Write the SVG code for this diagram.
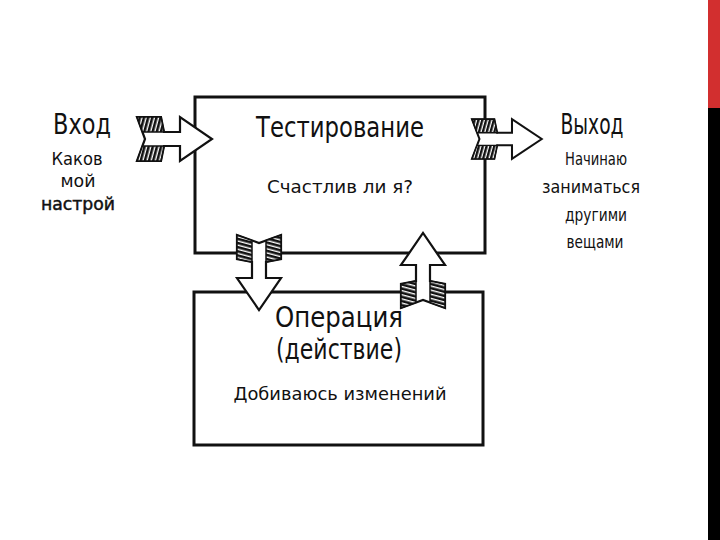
<svg xmlns="http://www.w3.org/2000/svg" width="720" height="540" viewBox="0 0 720 540">
<style>
.box{fill:none;stroke:#111;stroke-width:3}
.arr{fill:#fff;stroke:#111;stroke-width:2.2;stroke-linejoin:miter}
.fth{fill:url(#hatch);stroke:#111;stroke-width:1.5}
text{font-family:"DejaVu Sans","Liberation Sans",sans-serif;fill:#111;text-anchor:middle}
.big{font-size:29px}
.mid{font-size:18px}
</style>
<defs>
<pattern id="hatch" patternUnits="userSpaceOnUse" width="4" height="4" patternTransform="rotate(15)">
<rect width="4" height="4" fill="#111"/>
<rect x="2.6" width="1.4" height="4" fill="#fff"/>
</pattern>
<g id="arrow">
<polygon class="arr" points="0,-22 24,-22 27,-7 43,-7 43,-22 75,0 43,22 43,7 27,7 24,22 0,22 8,0"/>
<polygon class="fth" points="0,-22 24,-22 27,-7 5.5,-7"/>
<polygon class="fth" points="5.5,7 27,7 24,22 0,22"/>
</g>
</defs>
<rect width="720" height="540" fill="#fff"/>
<rect x="708" y="0" width="12" height="108" fill="#d22f2f"/>
<rect x="708" y="108" width="12" height="432" fill="#000"/>

<g id="node-test">
<rect class="box" x="195" y="97" width="290" height="156"/>
<text class="big" x="340" y="137" textLength="168" lengthAdjust="spacingAndGlyphs">Тестирование</text>
<text class="mid" x="340" y="193" textLength="146" lengthAdjust="spacingAndGlyphs">Счастлив ли я?</text>
</g>
<g id="node-op">
<rect class="box" x="194" y="292" width="289" height="153"/>
<text class="big" x="339" y="327" textLength="128" lengthAdjust="spacingAndGlyphs">Операция</text>
<text class="big" x="339" y="359" textLength="126" lengthAdjust="spacingAndGlyphs">(действие)</text>
<text class="mid" x="340" y="400" textLength="213" lengthAdjust="spacingAndGlyphs">Добиваюсь изменений</text>
</g>
<g id="node-in">
<text class="big" x="82" y="134" textLength="58" lengthAdjust="spacingAndGlyphs">Вход</text>
<text class="mid" x="77" y="165" textLength="51" lengthAdjust="spacingAndGlyphs">Каков</text>
<text class="mid" x="78" y="187" textLength="35" lengthAdjust="spacingAndGlyphs">мой</text>
<text class="mid" x="78" y="210" textLength="74" lengthAdjust="spacingAndGlyphs" style="stroke:#111;stroke-width:0.5">настрой</text>
</g>
<g id="node-out">
<text class="big" x="592" y="134" textLength="63" lengthAdjust="spacingAndGlyphs">Выход</text>
<text class="mid" x="596" y="165" textLength="62" lengthAdjust="spacingAndGlyphs">Начинаю</text>
<text class="mid" x="591" y="193" textLength="98" lengthAdjust="spacingAndGlyphs">заниматься</text>
<text class="mid" x="596" y="221" textLength="62" lengthAdjust="spacingAndGlyphs">другими</text>
<text class="mid" x="595" y="248" textLength="57" lengthAdjust="spacingAndGlyphs">вещами</text>
</g>
<g id="connectors">
<use href="#arrow" transform="translate(137,139)"/>
<use href="#arrow" transform="translate(472,139) scale(0.93,0.9)"/>
<use href="#arrow" transform="translate(259,235) rotate(90)"/>
<use href="#arrow" transform="translate(423,308) rotate(-90)"/>
</g>
</svg>
